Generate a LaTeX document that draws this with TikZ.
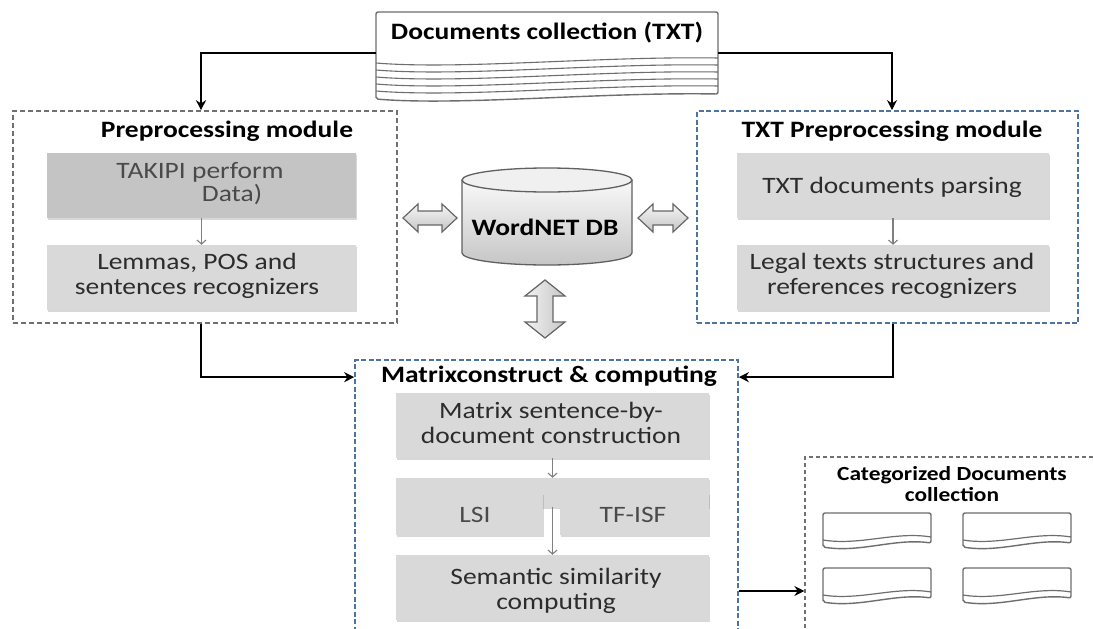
\documentclass[tikz,border=0pt]{standalone}
\usepackage{fontspec}
\setmainfont{Carlito}[FakeStretch=1.17]
\usetikzlibrary{arrows.meta,shadows}
\definecolor{boxgray}{HTML}{D9D9D9}
\definecolor{darkbox}{HTML}{C4C4C4}
\definecolor{txtgray}{HTML}{2C2C2C}
\definecolor{lighttxt}{HTML}{4A4A4A}
\definecolor{modblue}{HTML}{4F73A0}
\definecolor{modgray}{HTML}{707070}
\definecolor{docline}{HTML}{6E6E6E}
\tikzset{
  body/.style={font=\fontsize{23.5}{24.5}\selectfont, text=txtgray, align=center, inner sep=0pt},
  ttl/.style={font=\fontsize{23.5}{24.5}\selectfont\bfseries, text=black, align=center, inner sep=0pt},
  ibox/.style={fill=boxgray, draw=none, inner sep=0pt, drop shadow={shadow xshift=1pt,shadow yshift=-2pt,opacity=.3}},
  lmodule/.style={draw=modgray, line width=1.6pt, dash pattern=on 5pt off 3pt, inner sep=0pt},
  bmodule/.style={draw=modblue, line width=1.7pt, dash pattern=on 5pt off 2.5pt, inner sep=0pt},
  conn/.style={draw=black, line width=2.2pt, -{Stealth[length=10pt,width=10pt]}},
  thinarrow/.style={draw=gray, line width=1.1pt, -{Straight Barb[length=4pt,width=9pt]}},
  dbl/.style={draw=gray!80!black, line width=1.2pt, top color=gray!8, bottom color=gray!45},
  docl/.style={draw=docline, line width=1.4pt},
}
\begin{document}
\begin{tikzpicture}[x=1pt,y=-1pt]
\useasboundingbox (0,0) rectangle (1093,629);
\fill[white] (0,0) rectangle (1093,629);
\clip (0,0) rectangle (1093,629);

% ---------- Documents collection ----------
\node[minimum width=342pt, minimum height=82pt, inner sep=0pt] (docs) at (547,53) {};
\draw[docl, fill=white, rounded corners=2pt] (376,99) -- (376,12) -- (718,12) -- (718,94)
   .. controls (600,92) and (460,106) .. (376,99) -- cycle;
\foreach \k in {0,...,4}{
  \draw[docl, line width=1.1pt] (376,{63+7*\k}) .. controls (460,{70+7*\k}) and (600,{56+7*\k}) .. (718,{58+7*\k});
}
\node[ttl] (dt) at (547,33) {Documents collection (TXT)};

% ---------- Left module ----------
\node[lmodule, minimum width=384pt, minimum height=212pt] (lmod) at (205,217) {};
\node[ttl] (lt) at (227,131) {Preprocessing module};
\node[ibox, fill=darkbox, minimum width=309pt, minimum height=65pt] (l1) at (201.5,185.5) {};
\node[ibox, minimum width=309pt, minimum height=65pt] (l2) at (201.5,277.5) {};
\node[body, text=lighttxt] (l1a) at (200,172) {TAKIPI perform};
\node[body, text=lighttxt] (l1b) at (232,195) {Data)};
\node[body] (l2t) at (197,276) {Lemmas, POS and\\sentences recognizers};
\draw[thinarrow] (l1) -- (l2);

% ---------- Right module ----------
\node[bmodule, minimum width=381pt, minimum height=212pt] (rmod) at (887.5,217) {};
\node[ttl] (rt) at (892,131) {TXT Preprocessing module};
\node[ibox, minimum width=312pt, minimum height=65pt] (r1) at (893,185.5) {};
\node[ibox, minimum width=312pt, minimum height=65pt] (r2) at (893,277.5) {};
\node[body] (r1t) at (892,187) {TXT documents parsing};
\node[body] (r2t) at (892,276) {Legal texts structures and\\references recognizers};
\draw[thinarrow] (r1) -- (r2);

% ---------- WordNET DB ----------
\shade[top color=gray!5, bottom color=gray!45] (462,180) -- (462,253) arc (180:0:85 and 12) -- (632,180) arc (0:180:85 and 12) -- cycle;
\draw[draw=gray!75!black, line width=1.3pt] (462,180) -- (462,253) arc (180:0:85 and 12) -- (632,180);
\draw[draw=gray!75!black, line width=1.3pt, fill=gray!12] (547,180) ellipse (85 and 12);
\node[ttl] (db) at (545,227) {WordNET DB};

% double arrows
\draw[dbl] (403,218) -- (418,204) -- (418,211) -- (442,211) -- (442,204) -- (457,218) -- (442,232) -- (442,225) -- (418,225) -- (418,232) -- cycle;
\draw[dbl] (638,218) -- (653,204) -- (653,211) -- (673,211) -- (673,204) -- (688,218) -- (673,232) -- (673,225) -- (653,225) -- (653,232) -- cycle;
\draw[dbl, left color=gray!10, right color=gray!45] (545,280) -- (565,296) -- (553,296) -- (553,322) -- (565,322) -- (545,338) -- (525,322) -- (537,322) -- (537,296) -- (525,296) -- cycle;

% ---------- Matrix module ----------
\node[bmodule, minimum width=383pt, minimum height=280pt] (mat) at (546.5,500) {};
\node[ttl] (mt) at (549,376) {Matrixconstruct \& computing};
\node[ibox, minimum width=313pt, minimum height=65pt] (m1) at (552.5,425.5) {};
\node[body] (m1t) at (551,423) {Matrix sentence-by-\\document construction};
\node[ibox, minimum width=313pt, minimum height=29pt] (band) at (552.5,492.5) {};
\node[ibox, minimum width=147pt, minimum height=42pt] (lsi) at (469.5,514) {};
\node[ibox, minimum width=149pt, minimum height=42pt] (tf) at (634.5,514) {};
\node[body, text=lighttxt] (lsit) at (475,515) {LSI};
\node[body, text=lighttxt] (tft) at (633,515) {TF-ISF};
\node[ibox, minimum width=313pt, minimum height=65pt] (sem) at (552.5,587.5) {};
\node[body] (semt) at (556,591) {Semantic similarity\\computing};
\draw[thinarrow] (m1) -- (band);
\draw[thinarrow] (band.south) -- (sem.north);

% ---------- Categorized documents ----------
\node[draw=modgray, line width=1.3pt, dash pattern=on 4pt off 3pt, inner sep=0pt, minimum width=305pt, minimum height=203pt] (cat) at (957.5,558.5) {};
\node[ttl, font=\fontsize{20}{20.5}\selectfont\bfseries] (ct) at (952,484) {Categorized Documents\\collection};
\foreach \dx/\dy in {823/513, 963/513, 823/568, 963/568}{
  \begin{scope}[shift={(\dx,\dy)}]
    \draw[docl, fill=white, rounded corners=2pt] (0,34) -- (0,0) -- (108,0) -- (108,30)
        .. controls (72,25) and (37,40) .. (0,34) -- cycle;
    \draw[docl, line width=1.2pt] (0,27) .. controls (37,33) and (72,18) .. (108,24);
  \end{scope}
}

% ---------- Connectors ----------
\draw[conn] (docs.west) -| ([xshift=-4pt]lmod.north);
\draw[conn] (docs.east) -| ([xshift=4.5pt]rmod.north);
\draw[conn] ([xshift=-4pt]lmod.south) |- ([yshift=-18pt]mat.north west);
\draw[conn] ([xshift=5.5pt]rmod.south) |- ([yshift=-18pt]mat.north east);
\coordinate (o) at ([yshift=-3.5pt]sem.east);
\draw[conn] (o -| mat.east) -- (o -| cat.west);
\end{tikzpicture}
\end{document}
